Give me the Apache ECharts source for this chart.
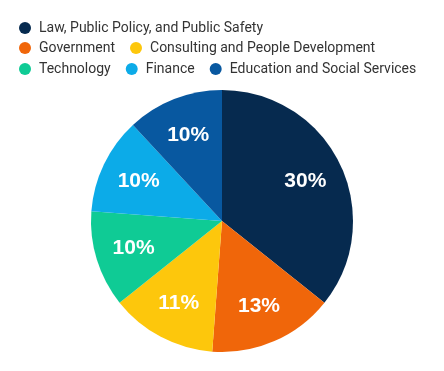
<!DOCTYPE html>
<html>
<head>
<meta charset="utf-8">
<script src="https://cdn.jsdelivr.net/npm/echarts@6/dist/echarts.min.js"></script>
<style>
html,body{margin:0;padding:0;background:#fff;}
#chart{width:444px;height:371px;}
</style>
</head>
<body>
<div id="chart"></div>
<script>
const categories = [
  "Law, Public Policy, and Public Safety",
  "Government",
  "Consulting and People Development",
  "Technology",
  "Finance",
  "Education and Social Services"
];
const values = [30, 13, 11, 10, 10, 10];
const colors = ["#062a4f", "#f0660a", "#fdc70c", "#0fcb95", "#0cabe8", "#0858a0"];

const data = categories.map((c, i) => ({ name: c, value: values[i], itemStyle: { color: colors[i] } }));

const legendBase = {
  left: 19,
  padding: 0,
  icon: 'circle',
  itemWidth: 14,
  itemHeight: 12,
  itemGap: 15,
  selectedMode: false,
  textStyle: { fontFamily: 'Roboto', fontSize: 14, color: '#333333', padding: [0, 0, 0, 2] }
};

const chart = echarts.init(document.getElementById('chart'), null, { renderer: 'canvas' });
chart.setOption({
  animation: false,
  backgroundColor: '#ffffff',
  legend: [
    Object.assign({}, legendBase, { top: 21, data: [categories[0]] }),
    Object.assign({}, legendBase, { top: 41, data: [categories[1], categories[2]] }),
    Object.assign({}, legendBase, { top: 62, data: [categories[3], categories[4], categories[5]] })
  ],
  series: [
    {
      type: 'pie',
      center: [222, 221],
      radius: [0, 131],
      startAngle: 90,
      clockwise: true,
      label: { show: false },
      labelLine: { show: false },
      itemStyle: { borderWidth: 0 },
      emphasis: { disabled: true },
      data: data
    },
    {
      type: 'pie',
      center: [222, 221],
      radius: [48, 131],
      startAngle: 90,
      clockwise: true,
      silent: true,
      legendHoverLink: false,
      itemStyle: { color: 'rgba(0,0,0,0)', borderWidth: 0 },
      emphasis: { disabled: true },
      label: {
        show: true,
        position: 'inside',
        formatter: '{c}%',
        color: '#ffffff',
        fontFamily: 'Liberation Sans',
        fontWeight: 'bold',
        fontSize: 21
      },
      labelLine: { show: false },
      data: categories.map((c, i) => ({ name: c, value: values[i] }))
    }
  ]
});
</script>
</body>
</html>
